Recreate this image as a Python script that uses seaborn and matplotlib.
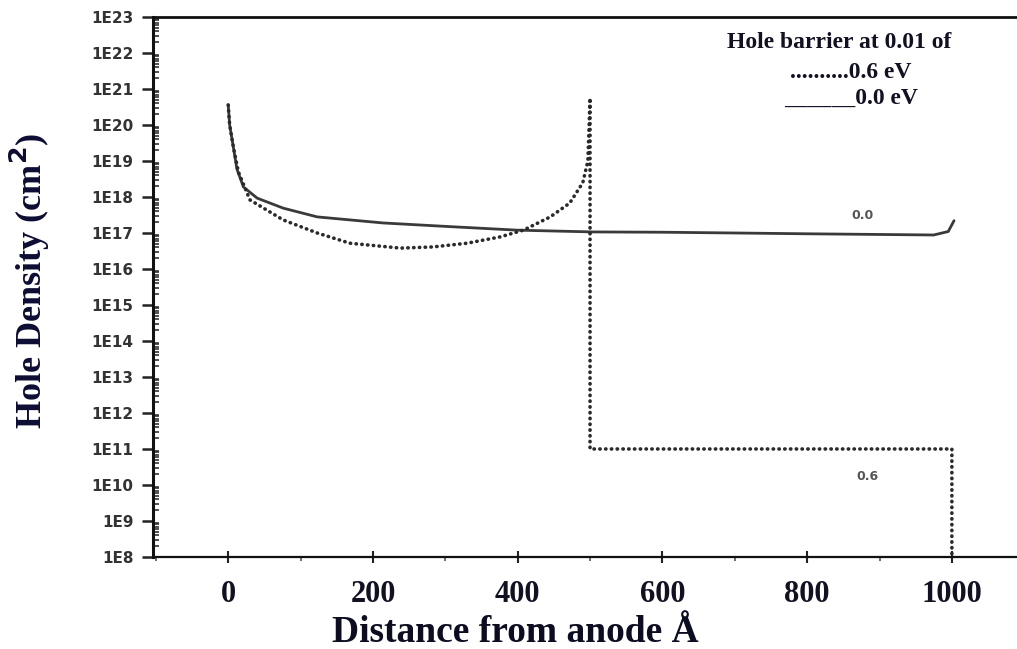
import numpy as np
import pandas as pd
import matplotlib
matplotlib.use("Agg")
import matplotlib.pyplot as plt
from matplotlib.ticker import FixedLocator, FixedFormatter, LogLocator, NullFormatter, MultipleLocator
import seaborn as sns

# ---- data ----
x_solid = [0, 2, 7, 12, 21, 40, 76, 123, 214, 307, 399, 504, 600, 700, 800, 900, 975, 995, 1003]
y_solid = [3.6e20, 1.0e20, 2.5e19, 6.0e18, 1.9e18, 9.3e17, 4.9e17, 2.8e17, 1.9e17, 1.5e17,
           1.2e17, 1.07e17, 1.05e17, 1.0e17, 9.5e16, 9.1e16, 8.8e16, 1.1e17, 2.2e17]

x_dotted = [0, 2, 7, 14, 30, 76, 123, 168, 238, 283, 330, 376, 408, 445, 472, 490, 497, 500, 500, 1000, 1000]
y_dotted = [3.6e20, 1.0e20, 2.5e19, 5.0e18, 8.3e17, 2.3e17, 1.0e17, 5.2e16, 3.8e16, 4.1e16,
            5.2e16, 7.8e16, 1.2e17, 2.8e17, 6.8e17, 2.5e18, 1.0e19, 5.6e20, 1.0e11, 1.0e11, 1.0e8]

x_ticks = [0, 200, 400, 600, 800, 1000]
y_tick_values = [1e8, 1e9, 1e10, 1e11, 1e12, 1e13, 1e14, 1e15, 1e16, 1e17, 1e18, 1e19, 1e20, 1e21, 1e22, 1e23]
y_tick_labels = ["1E8", "1E9", "1E10", "1E11", "1E12", "1E13", "1E14", "1E15",
                 "1E16", "1E17", "1E18", "1E19", "1E20", "1E21", "1E22", "1E23"]

legend_title = "Hole barrier at 0.01 of"
legend_dotted = "..........0.6 eV"
legend_solid = "______0.0 eV"
curve_labels = ["0.0", "0.6"]
curve_label_pos = [(876, 3.0e17), (884, 1.7e10)]

df_solid = pd.DataFrame({"x": x_solid, "y": y_solid})
df_dotted = pd.DataFrame({"x": x_dotted, "y": y_dotted})

sns.set_theme(style="white")
plt.rcParams["font.family"] = ["Liberation Serif", "DejaVu Serif"]

fig = plt.figure(figsize=(10.17, 6.49), dpi=100)
ax = fig.add_axes([0.1504, 0.1418, 0.8496, 0.832])

sns.lineplot(data=df_solid, x="x", y="y", sort=False, estimator=None, ax=ax,
             color="#3a3a3a", linewidth=2.0)
sns.lineplot(data=df_dotted, x="x", y="y", sort=False, estimator=None, ax=ax,
             color="#2a2a2a", linewidth=2.6, linestyle=(0, (0.1, 1.5)),
             dash_capstyle="round")

ax.set_yscale("log")
ax.set_xlim(-104, 1090)
ax.set_ylim(1e8, 1e23)

ax.yaxis.set_major_locator(FixedLocator(y_tick_values))
ax.yaxis.set_major_formatter(FixedFormatter(y_tick_labels))
ax.yaxis.set_minor_locator(LogLocator(base=10, subs=np.arange(2, 10), numticks=100))
ax.yaxis.set_minor_formatter(NullFormatter())

ax.xaxis.set_major_locator(FixedLocator(x_ticks))
ax.xaxis.set_minor_locator(MultipleLocator(100))

for lab in ax.get_yticklabels():
    lab.set_family(["DejaVu Sans"])
    lab.set_fontweight("bold")
    lab.set_fontsize(11)
    lab.set_color("#333333")
for lab in ax.get_xticklabels():
    lab.set_fontweight("bold")
    lab.set_fontsize(22)
    lab.set_color("#111122")

ax.tick_params(axis="y", which="major", direction="out", length=8, width=1.8, color="#222222", pad=6, left=True)
ax.tick_params(axis="y", which="minor", direction="in", length=4, width=1.2, color="#333333", left=True)
ax.tick_params(axis="x", which="major", direction="inout", length=9, width=1.5, color="#222222", pad=12, bottom=True)
ax.tick_params(axis="x", which="minor", direction="out", length=3, width=1.2, color="#555555", bottom=True)

for side in ["left", "top", "bottom"]:
    ax.spines[side].set_visible(True)
    ax.spines[side].set_color("#111111")
ax.spines["left"].set_linewidth(2.2)
ax.spines["top"].set_linewidth(2.0)
ax.spines["bottom"].set_linewidth(1.6)
ax.spines["right"].set_visible(False)

ax.set_xlabel("Distance from anode Å", fontsize=27, fontweight="bold", color="#0d0d22")
ax.xaxis.set_label_coords((515 - 153) / 864, -(633 - 557) / 540)
ax.xaxis.label.set_va("center")
ax.set_ylabel("Hole Density (cm$^\\mathbf{2}$)", fontsize=26, fontweight="bold", color="#0d0d33")
ax.yaxis.set_label_coords(-(153 - 30) / 864, (557 - 281) / 540)
ax.yaxis.label.set_va("center")

fig.text(839 / 1017, 1 - 43 / 649, legend_title, ha="center", va="center",
         fontsize=17, fontweight="bold", color="#111122")
fig.text(851 / 1017, 1 - 73 / 649, legend_dotted, ha="center", va="center",
         fontsize=17, fontweight="bold", color="#111122")
fig.text(851 / 1017, 1 - 98 / 649, legend_solid, ha="center", va="center",
         fontsize=17, fontweight="bold", color="#111122")

for lab, (lx, ly) in zip(curve_labels, curve_label_pos):
    ax.text(lx, ly, lab, ha="center", va="center", fontsize=9, fontweight="bold",
            color="#555555", family=["DejaVu Sans"])

fig.savefig("out.png", dpi=100, facecolor="white")
